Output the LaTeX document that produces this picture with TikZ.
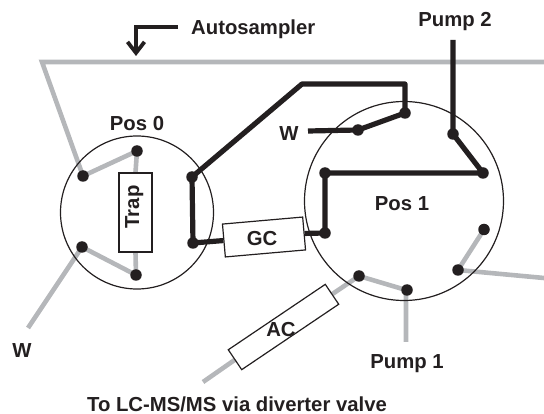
\documentclass[tikz,border=0pt]{standalone}
\usepackage{fontspec}
\setmainfont{Liberation Sans}
\usetikzlibrary{backgrounds,arrows.meta}
\definecolor{ink}{HTML}{231F20}
\definecolor{tube}{HTML}{B5B7BA}
\tikzset{
  x=1pt,y=-1pt,
  lbl/.style={font=\fontsize{20.3}{24}\selectfont\bfseries,text=ink,inner sep=0pt},
  port/.style={circle,fill=ink,minimum size=11.5pt,inner sep=0pt},
  valve/.style={circle,draw=ink,line width=1.2pt,minimum size=#1,inner sep=0pt},
  loopbox/.style={draw=ink,line width=1.2pt,fill=white,inner sep=0pt},
  grayline/.style={draw=tube,line width=4.6pt,line join=miter},
  blackline/.style={draw=ink,line width=5.2pt,line join=round},
}
\begin{document}
\begin{tikzpicture}
\useasboundingbox (0,0) rectangle (544,414);
% valves
\node[valve=153pt] (v0) at (137,212.5) {};
\node[valve=199pt] (v1) at (404,201) {};
% ports
\node[port] (a1) at (83,176) {};
\node[port] (a2) at (137,151) {};
\node[port] (a3) at (136,275) {};
\node[port] (a4) at (82,247) {};
\node[port] (a5) at (192,177) {};
\node[port] (a6) at (193,243) {};
\node[port] (b1) at (405,113) {};
\node[port] (b2) at (358,130) {};
\node[port] (b3) at (453,134) {};
\node[port] (b4) at (483,173) {};
\node[port] (b5) at (325,173) {};
\node[port] (b6) at (325,233) {};
\node[port] (b7) at (484,229.5) {};
\node[port] (b8) at (458,270) {};
\node[port] (b9) at (359,276) {};
\node[port] (b10) at (407,290) {};
% boxes
\node[loopbox,rotate=90,minimum width=79pt,minimum height=33pt] (trap) at (135.5,212.5) {};
\node[lbl,rotate=90,anchor=base] (trapt) at (139,207) {Trap};
\node[loopbox,rotate=5,minimum width=80.5pt,minimum height=33pt] (gc) at (264,237) {};
\node[lbl] (gct) at (262,239) {GC};
\node[loopbox,rotate=34,minimum width=117pt,minimum height=24pt] (ac) at (283.5,327) {};
\node[lbl] (act) at (281,330) {AC};
% free ends
\coordinate (topl) at (42,62);
\coordinate (topr) at (544,62);
\coordinate (wlow) at (28,328);
\coordinate (rgt) at (544,278);
\coordinate (p1end) at (406,342);
\coordinate (acend) at (203,382);
\coordinate (wtop) at (308,131);
\coordinate (p2end) at (453,40);
\coordinate (r1) at (302,84);
\coordinate (r2) at (405,84);
\coordinate (ar1) at (178,27);
\coordinate (ar2) at (136,27);
\coordinate (ar3) at (136,56);
\begin{pgfonlayer}{background}
\draw[grayline] (topr) -- (topl) -- (a1.center) -- (a2.center) -- (trap.east);
\draw[grayline] (trap.west) -- (a3.center) -- (a4.center) -- (wlow);
\draw[grayline] (b7.center) -- (b8.center) -- (rgt);
\draw[grayline] (p1end) -- (p1end |- b10) -- (b9.center) -- (ac.east);
\draw[grayline] (ac.west) -- (acend);
\draw[blackline] (a6.center) -- (a5.center) -- (r1) -- (r2) -- (b1.center) -- (b2.center) -- (wtop);
\draw[blackline] (p2end) -- (b3.center) -- (b4.center) -- (b5.center) -- (b6.center) -- (gc.east);
\draw[blackline] (gc.west) -- (a6.center);
\end{pgfonlayer}
\draw[draw=ink,line width=3.8pt,line join=miter,-{Straight Barb[length=11pt,width=17pt,line width=3.8pt]}] (ar1) -- (ar2) -- (ar3);
% labels
\node[lbl,anchor=west] (tauto) at (191,29) {Autosampler};
\node[lbl] (tp2) at (455,22) {Pump 2};
\node[lbl] (tp0) at (137,124) {Pos 0};
\node[lbl] (tw1) at (289,134) {W};
\node[lbl] (tp1) at (402,204) {Pos 1};
\node[lbl] (tw2) at (22,351) {W};
\node[lbl] (tpu) at (407,364) {Pump 1};
\node[lbl] (tlc) at (237,404) {To LC-MS/MS via diverter valve};
\end{tikzpicture}
\end{document}
